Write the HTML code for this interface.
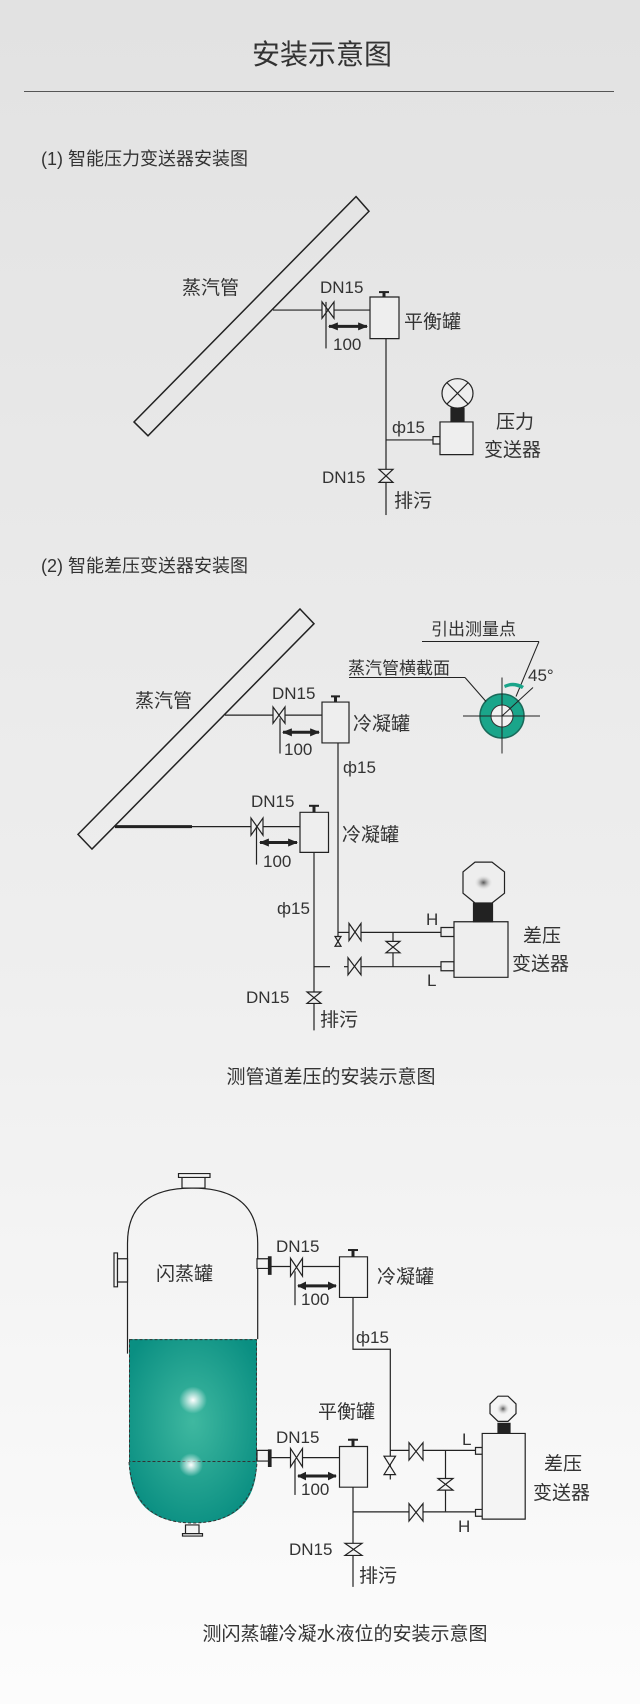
<!DOCTYPE html>
<html><head><meta charset="utf-8"><style>
html,body{margin:0;padding:0;}
body{width:640px;height:1704px;overflow:hidden;}
svg{display:block;}
text{font-family:"Liberation Sans","Noto Sans CJK SC",sans-serif;fill:#333;}
.s line,.s polygon,.s rect,.s polyline,.s path,.s circle,.s ellipse{vector-effect:non-scaling-stroke;}
</style></head><body>
<svg width="640" height="1704" viewBox="0 0 640 1704" xmlns="http://www.w3.org/2000/svg">
<defs>
<linearGradient id="bg" x1="0" y1="0" x2="0" y2="1">
<stop offset="0" stop-color="#e2e2e2"/><stop offset="0.55" stop-color="#eeeeee"/><stop offset="1" stop-color="#fcfcfc"/>
</linearGradient>
<radialGradient id="liq" cx="0.5" cy="0.45" r="0.6">
<stop offset="0" stop-color="#3fb8a0"/><stop offset="1" stop-color="#0a8f82"/>
</radialGradient>
<radialGradient id="hl" cx="0.5" cy="0.5" r="0.5">
<stop offset="0" stop-color="#fff" stop-opacity="1"/><stop offset="1" stop-color="#fff" stop-opacity="0"/>
</radialGradient>
<radialGradient id="dot" cx="0.5" cy="0.5" r="0.5">
<stop offset="0" stop-color="#555"/><stop offset="1" stop-color="#fff" stop-opacity="0"/>
</radialGradient>
<marker id="ah" viewBox="0 0 10 10" refX="9" refY="5" markerWidth="3" markerHeight="3" orient="auto-start-reverse"><path d="M0,0 L10,5 L0,10 z" fill="#222"/></marker>
</defs>
<rect width="640" height="1704" fill="url(#bg)"/>

<text x="322" y="64" font-size="28" text-anchor="middle">安装示意图</text>
<line x1="24" y1="91.5" x2="614" y2="91.5" stroke="#555" stroke-width="1"/>

<text x="41" y="165" font-size="18">(1) 智能压力变送器安装图</text>
<text x="41" y="572" font-size="18">(2) 智能差压变送器安装图</text>

<!-- Section 1 -->
<g class="s" transform="translate(0,150) scale(1,0.81667) translate(0,-150)" stroke="#222" stroke-width="1.2" fill="none">
<polygon points="356,207 369,225 148,500 134,483" fill="none" stroke-width="1.5"/>
<line x1="273" y1="346" x2="322" y2="346"/>
<polygon points="322,336 334,356 334,336 322,356" fill="#eee"/>
<line x1="334" y1="346" x2="370" y2="346"/>
<rect x="370" y="330" width="29" height="51" fill="#eee"/>
<line x1="384" y1="323" x2="384" y2="330" stroke-width="3"/>
<line x1="379" y1="324" x2="389" y2="324" stroke-width="2"/>
<line x1="326" y1="336" x2="326" y2="393"/>
<line x1="329" y1="366" x2="367" y2="366" stroke-width="3" marker-start="url(#ah)" marker-end="url(#ah)"/>
<line x1="386" y1="381" x2="386" y2="541"/>
<line x1="386" y1="557" x2="386" y2="597"/>
<polygon points="379,541 393,541 379,557 393,557" fill="#eee"/>
<line x1="386" y1="505" x2="433" y2="505"/>
<rect x="433" y="501" width="7" height="9" fill="#eee"/>
<rect x="440" y="483" width="33" height="40" fill="#eee"/>
<rect x="451" y="466" width="13" height="17" fill="#222"/>
<ellipse cx="457.5" cy="448" rx="15.5" ry="18" fill="#eee"/>
<line x1="447" y1="435" x2="468" y2="461"/><line x1="468" y1="435" x2="447" y2="461"/>
</g>

<!-- Section 2 -->
<g class="s" transform="translate(0,600) scale(1,0.81667) translate(0,-600)" stroke="#222" stroke-width="1.2" fill="none">
<polygon points="300,611 314,629 92,905 78,887" stroke-width="1.5"/>
<line x1="225" y1="741" x2="273" y2="741"/>
<polygon points="273,731 285,751 285,731 273,751" fill="#eee"/>
<line x1="285" y1="741" x2="322" y2="741"/>
<rect x="322" y="725" width="27" height="50" fill="#eee"/>
<line x1="335.5" y1="717" x2="335.5" y2="725" stroke-width="3"/>
<line x1="331" y1="718" x2="340" y2="718" stroke-width="2"/>
<line x1="280" y1="745" x2="280" y2="788"/>
<line x1="283" y1="762" x2="319" y2="762" stroke-width="3" marker-start="url(#ah)" marker-end="url(#ah)"/>
<line x1="338" y1="775" x2="338" y2="1024"/>
<polygon points="335,1012 341,1024 335,1024 341,1012" fill="#eee"/>

<line x1="115" y1="877.5" x2="192" y2="877.5" stroke-width="3"/>
<line x1="192" y1="877.5" x2="251" y2="877.5"/>
<polygon points="251,867 263,888 263,867 251,888" fill="#eee"/>
<line x1="263" y1="877.5" x2="300" y2="877.5"/>
<rect x="300" y="860" width="28.5" height="49" fill="#eee"/>
<line x1="314" y1="851" x2="314" y2="860" stroke-width="3"/>
<line x1="309" y1="852" x2="319" y2="852" stroke-width="2"/>
<line x1="256.5" y1="877" x2="256.5" y2="924"/>
<line x1="260" y1="897" x2="297" y2="897" stroke-width="3" marker-start="url(#ah)" marker-end="url(#ah)"/>
<line x1="314" y1="909" x2="314" y2="1080"/>
<line x1="314" y1="1094" x2="314" y2="1127"/>
<polygon points="307,1080 321,1080 307,1094 321,1094" fill="#eee"/>

<line x1="338" y1="1007" x2="349" y2="1007"/>
<polygon points="349,996 361,1017 361,996 349,1017" fill="#eee"/>
<line x1="361" y1="1007" x2="441" y2="1007"/>
<line x1="314" y1="1049" x2="330" y2="1049"/>
<line x1="344" y1="1049" x2="348" y2="1049"/>
<polygon points="348,1038 361,1059 361,1038 348,1059" fill="#eee"/>
<line x1="361" y1="1049" x2="441" y2="1049"/>
<line x1="393" y1="1007" x2="393" y2="1049"/>
<polygon points="386,1018 400,1018 386,1032 400,1032" fill="#eee"/>
<rect x="441" y="1001" width="13" height="11" fill="#eee"/>
<rect x="441" y="1043" width="13" height="11" fill="#eee"/>
<rect x="454" y="994" width="54" height="68" fill="#eee"/>
<rect x="473.5" y="971" width="19" height="23" fill="#222"/>
<polygon points="475,921 492,921 504.5,933 504.5,959 492,971 475,971 463,959 463,933" fill="#eee"/>
<circle cx="483.5" cy="946" r="10" fill="url(#dot)" stroke="none"/>
</g>

<!-- cross-section -->
<g stroke="#222" stroke-width="1" fill="none">
<circle cx="502" cy="716" r="22" fill="#1aa58a" stroke="#1a6a5a" stroke-width="1.5"/>
<circle cx="502" cy="716" r="11" fill="#f2f2f2" stroke="#333"/>
<line x1="463" y1="716" x2="540" y2="716"/>
<line x1="502" y1="677.5" x2="502" y2="753.5"/>
<line x1="502" y1="716" x2="533" y2="687.5"/>
<line x1="422" y1="641.5" x2="539" y2="641.5"/>
<line x1="539" y1="641.5" x2="516" y2="696.5"/>
<line x1="349" y1="677.5" x2="465" y2="677.5"/>
<line x1="465" y1="677.5" x2="486" y2="701.5"/>
</g>
<path d="M504,685 Q514,680 524,686 L522,689 Q513,684 505,688 z" fill="#1aa58a"/>

<!-- Section 3 -->
<g class="s" transform="translate(0,1160) scale(1,0.968) translate(0,-1160)" stroke="#222" stroke-width="1.2" fill="none">
<path d="M129,1345 L257,1345 L257,1470 Q257,1535 193,1535 Q129,1535 129,1470 z" fill="url(#liq)" stroke="none"/>
<rect x="129.5" y="1345.5" width="127" height="126" stroke="#333" stroke-dasharray="3,2" stroke-width="1"/>
<path d="M129,1472 Q133,1535 193,1535 Q253,1535 257,1472" stroke="#333" stroke-dasharray="3,2" stroke-width="1"/>
<path d="M127.5,1360 L127.5,1246 Q127.5,1189 192,1189 Q257.7,1189 257.7,1246 L257.7,1345"/>
<circle cx="193" cy="1408" r="14" fill="url(#hl)" stroke="none"/>
<circle cx="191" cy="1475" r="12" fill="url(#hl)" stroke="none"/>
<rect x="182" y="1178" width="23" height="11" fill="#f4f4f4"/>
<rect x="178.5" y="1174" width="31.5" height="4" fill="#f4f4f4"/>
<rect x="185.5" y="1537" width="13.5" height="9" fill="#f4f4f4"/>
<rect x="182.5" y="1546" width="20" height="2.5" fill="#f4f4f4"/>
<rect x="114" y="1256" width="3.5" height="35" fill="#f4f4f4"/>
<rect x="117.5" y="1262" width="10" height="24" fill="#f4f4f4"/>

<rect x="257" y="1262" width="12" height="10" fill="#f4f4f4"/>
<rect x="268.5" y="1260" width="2.5" height="18" fill="#222"/>
<line x1="271" y1="1270" x2="290" y2="1270"/>
<polygon points="290.5,1261.5 302.5,1280 302.5,1261.5 290.5,1280" fill="#f4f4f4"/>
<line x1="302.5" y1="1270" x2="339" y2="1270"/>
<rect x="339.5" y="1260" width="28" height="42" fill="#f4f4f4"/>
<line x1="353" y1="1252" x2="353" y2="1260" stroke-width="3"/>
<line x1="348" y1="1253" x2="358" y2="1253" stroke-width="2"/>
<line x1="295" y1="1275" x2="295" y2="1310"/>
<line x1="298" y1="1290" x2="336" y2="1290" stroke-width="3" marker-start="url(#ah)" marker-end="url(#ah)"/>
<polyline points="353,1302 353,1355.5 390.3,1355.5 390.3,1490"/>
<polygon points="384,1466 395.5,1466 384,1485 395.5,1485" fill="#f4f4f4"/>

<rect x="257" y="1460" width="12" height="11" fill="#f4f4f4"/>
<rect x="268.5" y="1459.5" width="2.5" height="17" fill="#222"/>
<line x1="271" y1="1467.5" x2="290" y2="1467.5"/>
<polygon points="290.5,1458 302.5,1477 302.5,1458 290.5,1477" fill="#f4f4f4"/>
<line x1="302.5" y1="1467.5" x2="339" y2="1467.5"/>
<rect x="339.5" y="1456" width="28" height="42" fill="#f4f4f4"/>
<line x1="353" y1="1448" x2="353" y2="1456" stroke-width="3"/>
<line x1="348" y1="1449" x2="358" y2="1449" stroke-width="2"/>
<line x1="295" y1="1470" x2="295" y2="1506"/>
<line x1="298" y1="1486.5" x2="336" y2="1486.5" stroke-width="3" marker-start="url(#ah)" marker-end="url(#ah)"/>
<line x1="353" y1="1498" x2="353" y2="1556"/>
<line x1="353" y1="1568.5" x2="353" y2="1601"/>
<polygon points="345,1556 362,1556 345,1568.5 362,1568.5" fill="#f4f4f4"/>

<line x1="390.3" y1="1460" x2="409" y2="1460"/>
<polygon points="409,1452 423,1470 423,1452 409,1470" fill="#f4f4f4"/>
<line x1="423" y1="1460" x2="475.5" y2="1460"/>
<line x1="353" y1="1523.5" x2="409" y2="1523.5"/>
<polygon points="409,1515 423,1533 423,1515 409,1533" fill="#f4f4f4"/>
<line x1="423" y1="1523.5" x2="475.5" y2="1523.5"/>
<line x1="445.5" y1="1460" x2="445.5" y2="1523"/>
<polygon points="438,1489 453,1489 438,1501 453,1501" fill="#f4f4f4"/>
<rect x="475.5" y="1457" width="7" height="7" fill="#f4f4f4"/>
<rect x="475.5" y="1521" width="7" height="7" fill="#f4f4f4"/>
<rect x="482.2" y="1442.5" width="43" height="88.5" fill="#f4f4f4"/>
<rect x="498" y="1432" width="12" height="10.5" fill="#222"/>
<polygon points="498,1404 508,1404 516,1412 516,1422 508,1430 498,1430 490,1422 490,1412" fill="#f4f4f4"/>
<circle cx="503" cy="1417" r="7" fill="url(#dot)" stroke="none"/>
</g>

<!-- labels -->
<g font-size="17">
<text x="320" y="293">DN15</text>
<text x="333" y="350">100</text>
<text x="322" y="483">DN15</text>
<text x="392" y="433">ф15</text>
<text x="272" y="699">DN15</text>
<text x="284" y="755">100</text>
<text x="343" y="773">ф15</text>
<text x="251" y="807">DN15</text>
<text x="263" y="867">100</text>
<text x="277" y="914">ф15</text>
<text x="246" y="1003">DN15</text>
<text x="426" y="925">H</text>
<text x="427" y="986">L</text>
<text x="528" y="681">45°</text>
<text x="276" y="1252">DN15</text>
<text x="301" y="1305">100</text>
<text x="356" y="1343">ф15</text>
<text x="276" y="1443">DN15</text>
<text x="301" y="1495">100</text>
<text x="289" y="1555">DN15</text>
<text x="462" y="1445">L</text>
<text x="458" y="1532">H</text>
</g>
<g font-size="19">
<text x="182" y="294">蒸汽管</text>
<text x="404" y="328">平衡罐</text>
<text x="496" y="428">压力</text>
<text x="484" y="456">变送器</text>
<text x="394" y="507">排污</text>
<text x="135" y="707">蒸汽管</text>
<text x="353" y="730">冷凝罐</text>
<text x="342" y="841">冷凝罐</text>
<text x="523" y="942">差压</text>
<text x="512" y="970">变送器</text>
<text x="320" y="1026">排污</text>
<text x="156" y="1280">闪蒸罐</text>
<text x="377" y="1283">冷凝罐</text>
<text x="318" y="1418">平衡罐</text>
<text x="544" y="1470">差压</text>
<text x="533" y="1499">变送器</text>
<text x="359" y="1582">排污</text>
</g>
<g font-size="17">
<text x="431" y="635">引出测量点</text>
<text x="348" y="674">蒸汽管横截面</text>
</g>
<text x="331" y="1083" font-size="19" text-anchor="middle">测管道差压的安装示意图</text>
<text x="345" y="1640" font-size="19" text-anchor="middle">测闪蒸罐冷凝水液位的安装示意图</text>
</svg>
</body></html>
